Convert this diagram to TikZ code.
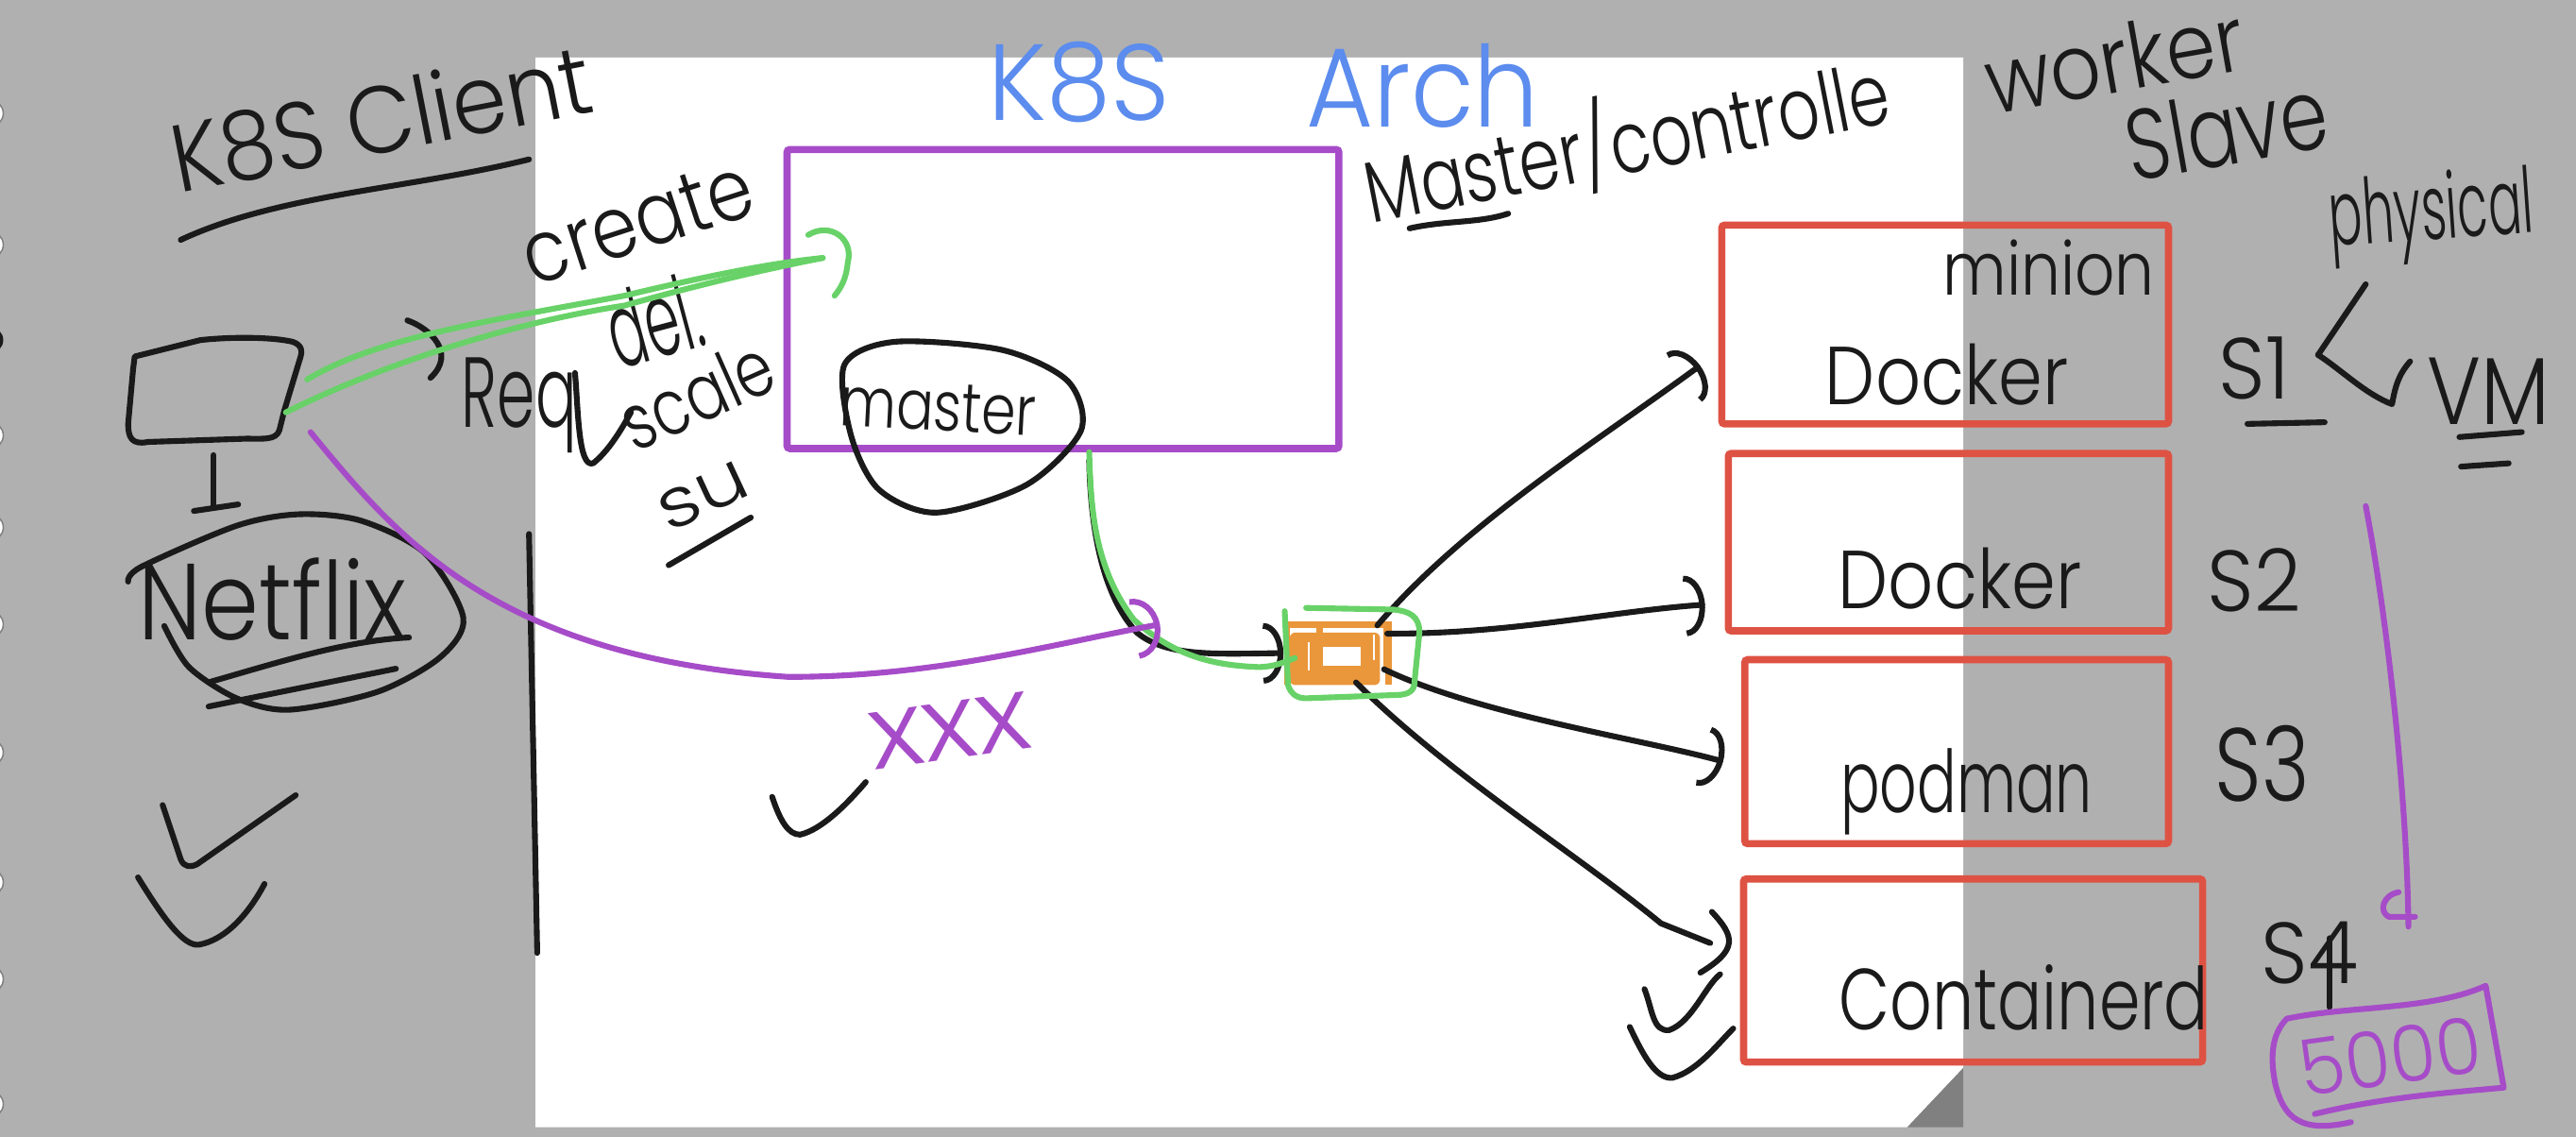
\documentclass[tikz,border=0pt]{standalone}
\usepackage{fontspec}
\setmainfont{Poppins Light}[FakeStretch=0.82]
\usepackage{xcolor}
\usetikzlibrary{arrows.meta,shapes.geometric}
\definecolor{bggray}{RGB}{176,176,176}
\definecolor{foldgray}{RGB}{128,128,128}
\definecolor{inkblack}{RGB}{26,26,26}
\definecolor{penpurple}{RGB}{166,76,200}
\definecolor{pengreen}{RGB}{104,210,104}
\definecolor{penblue}{RGB}{91,140,238}
\definecolor{boxred}{RGB}{222,82,68}
\definecolor{huborange}{RGB}{234,150,58}

\tikzset{
	ink/.style={draw=inkblack,line width=2pt,line cap=round,line join=round},
	purpleink/.style={draw=penpurple,line width=2pt,line cap=round,line join=round},
	greenink/.style={draw=pengreen,line width=2pt,line cap=round,line join=round},
	hook/.style={-{Arc Barb[width=21pt,length=7pt]}},
	hand/.style={font=\fontsize{30}{30}\selectfont,text=inkblack,inner sep=0pt},
	redbox/.style={draw=boxred,line width=2.5pt,rounded corners=1pt},
	purplebox/.style={draw=penpurple,line width=2.5pt,rounded corners=1pt}
}

\begin{document}
\begin{tikzpicture}[x=0.02cm,y=-0.02cm]
	\useasboundingbox (0,0) rectangle (1568,692);
	% Desk and page
	\fill[bggray] (0,0) rectangle (1568,692);
	\fill[white] (326,35) -- (1195,35) -- (1195,650) -- (1161,686) -- (326,686) -- cycle;
	\fill[foldgray] (1195,650) -- (1195,686) -- (1161,686) -- cycle;
	\foreach \y in {69,149,265,321,380,458,537,596,672}
		\draw[fill=white,draw=foldgray,line width=0.5pt] (-6,\y) circle (0.16cm);
	\fill[inkblack] (-6,207) circle (0.16cm);

	% Boxes
	\node[purplebox,minimum width=6.72cm,minimum height=3.64cm] (masterbox) at (647,182) {};
	\node[redbox,minimum width=5.44cm,minimum height=2.42cm] (box1) at (1184,197.5) {};
	\node[redbox,minimum width=5.36cm,minimum height=2.16cm] (box2) at (1186,330) {};
	\node[redbox,minimum width=5.16cm,minimum height=2.24cm] (box3) at (1191,457.5) {};
	\node[redbox,minimum width=5.59cm,minimum height=2.23cm] (box4) at (1201,590.7) {};

	% Titles
	\node[hand,text=penblue,xscale=1.45,yscale=1.25] (k8s) at (657,50) {K8S};
	\node[hand,text=penblue,xscale=1.45,yscale=1.3] (arch) at (866,52) {Arch};
	\node[hand,rotate=11,xscale=1.23,yscale=1.1] (client) at (232,72) {K8S Client};
	\draw[ink] (110,146) .. controls (170,118) and (250,115) .. (322,97);
	\node[hand,rotate=11,xscale=0.92,yscale=1] (controller) at (990,85) {Master/controlle};
	\draw[ink] (858,139) .. controls (880,134) and (900,136) .. (918,130);
	\node[hand,rotate=10,xscale=1.12,yscale=1.05] (worker) at (1287,36) {worker};
	\node[hand,rotate=10,xscale=1.08,yscale=1.15] (slave) at (1355,78) {Slave};
	\node[hand,rotate=4,xscale=0.7,yscale=1.05] (physical) at (1480,132) {physical};

	% Worker labels
	\node[hand,xscale=0.88,yscale=0.85] (minion) at (1247,163) {minion};
	\node[hand,xscale=1,yscale=0.95] (docker1) at (1185,228) {Docker};
	\node[hand,xscale=1,yscale=0.95] (docker2) at (1193,352) {Docker};
	\node[hand,xscale=0.82,yscale=1] (podman) at (1197,482) {podman};
	\node[hand,xscale=0.93,yscale=1] (containerd) at (1232,607) {Containerd};
	\node[hand,xscale=1.15] (s1) at (1372,224) {S1};
	\node[hand,xscale=1.15] (s2) at (1372,353) {S2};
	\node[hand,xscale=1.15,yscale=1.2] (s3) at (1377,465) {S3};
	\node[hand,xscale=1.15] (s4) at (1406,580) {S4};
	\node[hand,xscale=1.15,yscale=1.1] (vm) at (1515,238) {VM};
	\draw[ink] (1368,258) -- (1415,257);
	\draw[ink] (1497,266) -- (1535,263);
	\draw[ink] (1498,284) -- (1527,282);
	\draw[ink] (1418,571) -- (1418,613);

	% Fork to physical and VM
	\coordinate (fork) at (1411,216);
	\draw[ink] (fork) -- (1440,173);
	\draw[ink] (fork) .. controls (1425,225) and (1440,240) .. (1456,246) .. controls (1458,235) and (1460,228) .. (1467,220);

	% Client
	\draw[ink] (82,217) -- (122,207) .. controls (140,205) and (165,205) .. (178,208) .. controls (184,210) and (184,214) .. (183,217) -- (173,250) -- (170,262) .. controls (168,268) and (160,267) .. (150,267) -- (90,269) .. controls (80,271) and (78,266) .. (78,258) -- (81,225) -- cycle;
	\coordinate (clienta) at (187,231);
	\coordinate (clientb) at (174,251);
	\coordinate (clientc) at (189,263);
	\coordinate (clientd) at (130,277);
	\coordinate (clientfoot) at (130,309);
	\draw[ink] (clientd) -- (clientfoot);
	\draw[ink] (118,311) -- (145,307);
	\draw[ink] (248,195) .. controls (262,200) and (278,215) .. (262,230);
	\node[hand,xscale=1.3,yscale=1.25] (netflix) at (166,365) {Netflix};
	\draw[ink] plot[smooth] coordinates {(78,354) (86,345) (144,320) (182,313) (220,317) (259,337) (282,376) (268,400) (230,421) (176,432) (144,425) (115,406) (100,381)};
	\draw[ink] (128,415) .. controls (170,403) and (210,390) .. (249,388);
	\draw[ink] (127,430) -- (241,407);

	% Request labels
	\node[hand,xscale=0.86,yscale=1.15] (req) at (316,247) {Req};
	\draw[ink] (350,227) .. controls (352,250) and (352,285) .. (361,282) .. controls (370,275) and (378,262) .. (384,251);
	\node[hand,rotate=18,xscale=1.03,yscale=1] (create) at (388,135) {create};
	\node[hand,rotate=15,xscale=0.78,yscale=1.2] (del) at (398,195) {del.};
	\node[hand,rotate=24,xscale=0.85,yscale=0.9] (scale) at (424,240) {scale};
	\node[hand,rotate=25,xscale=1.15,yscale=0.8] (su) at (428,302) {su};
	\draw[ink] (407,344) -- (457,315);
	\draw[ink] (322,325) -- (327,580);

	% Master
	\node[hand,rotate=-3,xscale=0.78,yscale=0.8] (master) at (571,248) {master};
	\draw[ink] plot[smooth cycle] coordinates {(514,222) (545,208) (610,213) (650,232) (658,262) (625,295) (570,312) (535,298) (518,265)};

	% Hub icon
	\node[fill=huborange,minimum width=1.31cm,minimum height=0.78cm,inner sep=0pt] (hub) at (814.3,397.5) {};
	\fill[white] (785,382) rectangle (843,417.5);
	\fill[huborange] (842,382) rectangle (847,406);
	\fill[huborange,rounded corners=2pt] (785,385) rectangle (840,417);
	\fill[huborange] (801,381) rectangle (805,386);
	\fill[white] (836,386) rectangle (837,402);
	\fill[white] (796,391) rectangle (797,408);
	\fill[white] (805,394) rectangle (828,405);

	% Connectors
	\draw[ink,hook] ([shift={(16,5)}]masterbox.south) .. controls (664,340) and (678,370) .. (692,385) .. controls (710,400) and (740,398) .. (hub.west);
	\draw[ink,hook] ([shift={(-9,3)}]hub.north east) .. controls (890,320) and (970,270) .. ([shift={(-11,25)}]box1.west);
	\draw[ink,hook] ([shift={(-3,8)}]hub.north east) .. controls (920,386) and (980,372) .. ([shift={(-12,38)}]box2.west);
	\draw[ink,hook] ([shift={(-5,-10)}]hub.south east) .. controls (900,435) and (1000,450) .. ([shift={(-11,6)}]box3.west);
	\draw[ink] ([shift={(-22,-2)}]hub.south east) .. controls (880,470) and (960,520) .. (1011,562) -- (1041,574);
	\draw[ink] (1042,555) .. controls (1056,570) and (1058,578) .. (1035,592);

	\draw[greenink] (clienta) .. controls (230,205) and (300,195) .. (380,180) .. controls (430,168) and (470,160) .. ([shift={(24,-25)}]masterbox.west);
	\draw[greenink] (clientb) .. controls (240,218) and (320,195) .. (380,186) .. controls (430,172) and (470,163) .. ([shift={(24,-25)}]masterbox.west);
	\draw[greenink] (492,143) .. controls (505,135) and (520,145) .. (516,160) .. controls (515,170) and (512,175) .. (508,180);
	\draw[greenink] ([shift={(16,0)}]masterbox.south) .. controls (664,310) and (666,345) .. (690,377) .. controls (715,400) and (740,405) .. (766,406) .. controls (775,406) and (782,403) .. ([shift={(7,3)}]hub.west);
	\draw[greenink] (782,372) -- (784,417) .. controls (786,423) and (790,425) .. (795,425) -- (850,423) .. controls (858,423) and (861,420) .. (861,415) -- (864,385) .. controls (864,375) and (858,372) .. (848,371) -- (795,370);

	\coordinate (sched) at (706,380);
	\draw[purpleink,-{Arc Barb[width=21pt,length=9pt]}] (clientc) .. controls (240,325) and (300,400) .. (480,412) .. controls (570,412) and (640,392) .. (sched);

	% Ticks
	\draw[ink] (99,490) -- (110,523) .. controls (112,528) and (116,528) .. (120,526) -- (180,484);
	\draw[ink] (84,534) .. controls (100,560) and (112,576) .. (121,575) .. controls (138,572) and (152,555) .. (161,538);
	\draw[ink] (470,485) .. controls (475,500) and (480,508) .. (487,508) .. controls (500,505) and (515,490) .. (527,476);
	\draw[ink] (1001,602) .. controls (1006,615) and (1006,628) .. (1016,627) .. controls (1030,622) and (1038,600) .. (1047,593);
	\draw[ink] (992,625) .. controls (1000,642) and (1008,657) .. (1018,656) .. controls (1033,652) and (1045,636) .. (1055,626);

	% Purple notes
	\node[hand,text=penpurple,rotate=8,xscale=1.65,yscale=1.2] (xxx) at (578,445) {xxx};
	\coordinate (limit) at (1440,308);
	\draw[purpleink] (limit) .. controls (1452,370) and (1465,480) .. (1466,564);
	\draw[purpleink] (1460,543) .. controls (1450,545) and (1448,555) .. (1454,558) -- (1470,558);
	\node[hand,text=penpurple,rotate=8,xscale=1.05,yscale=0.9] (num) at (1455,643) {5000};
	\draw[purpleink] (1409,678) .. controls (1450,668) and (1490,665) .. (1524,662) -- (1513,600) .. controls (1480,615) and (1430,612) .. (1392,620) .. controls (1382,630) and (1382,645) .. (1385,660) .. controls (1390,680) and (1400,690) .. (1431,683);
\end{tikzpicture}
\end{document}
